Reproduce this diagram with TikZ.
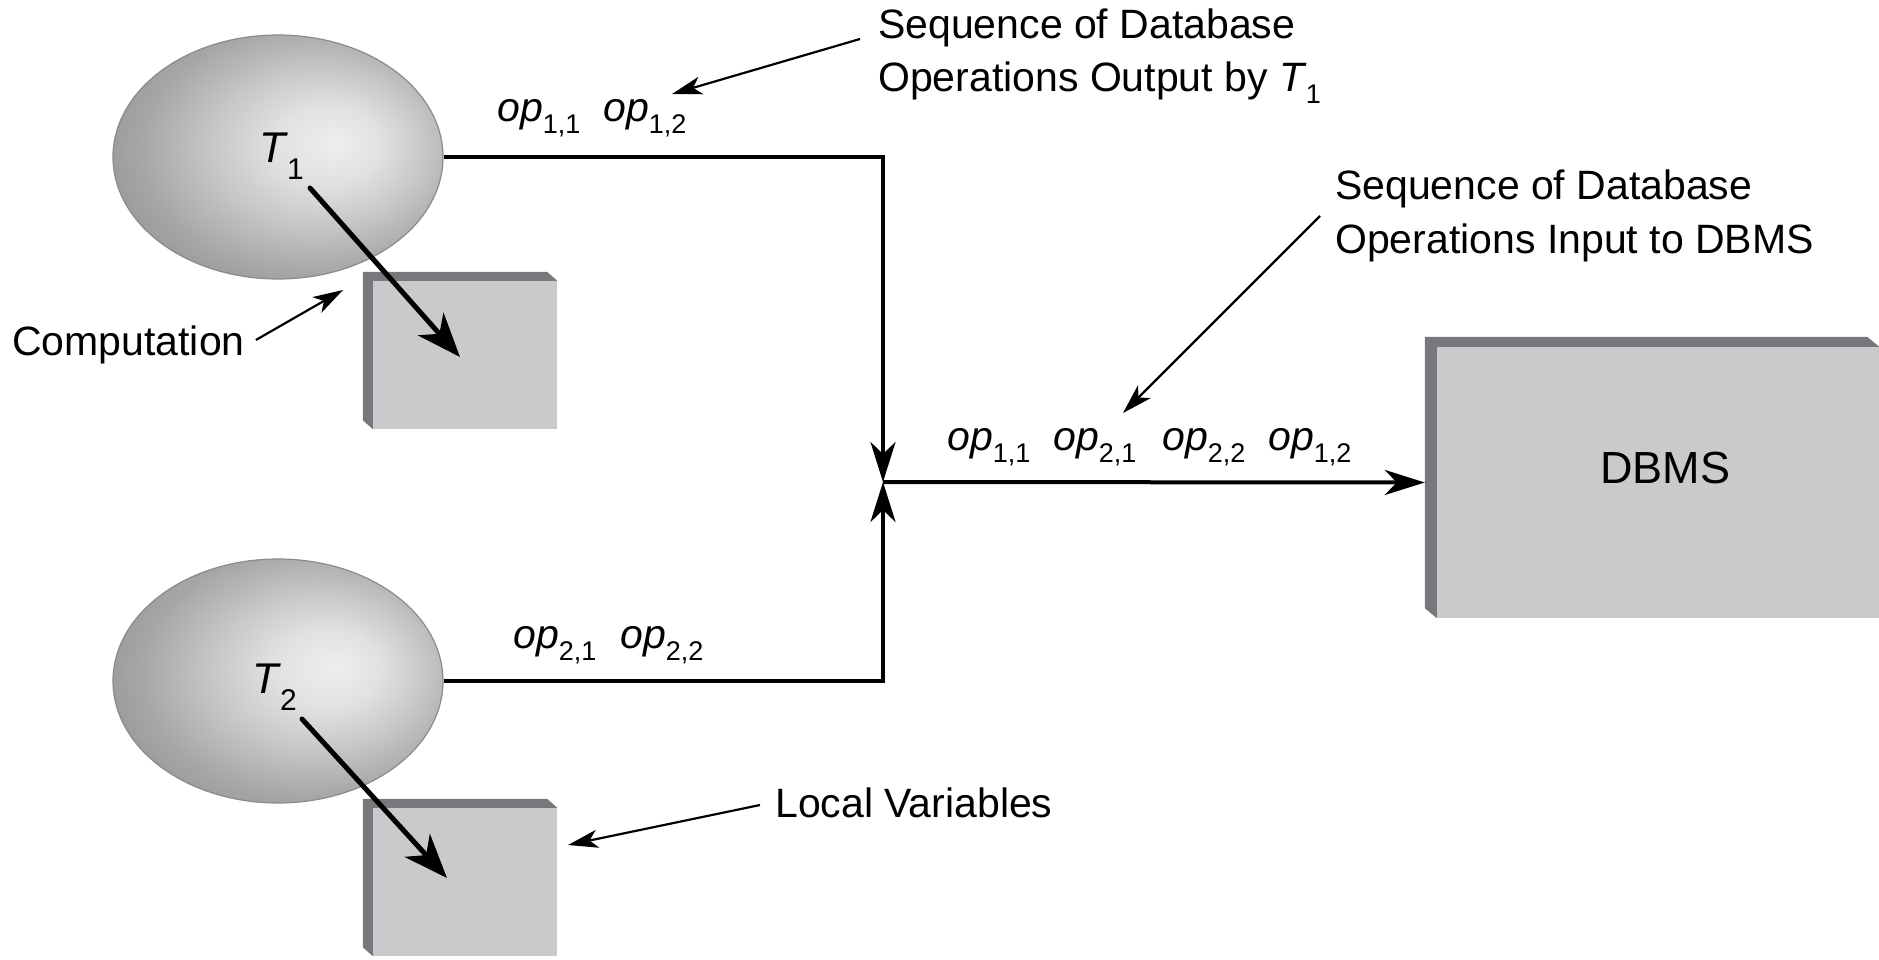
\documentclass[tikz,border=0pt]{standalone}
\usepackage{fontspec}
\setmainfont{Liberation Sans}
\usetikzlibrary{arrows.meta,shapes.geometric,calc}

\definecolor{boxface}{HTML}{C9CACC}
\definecolor{boxside}{HTML}{76787B}
\definecolor{rimgray}{HTML}{8A8B8D}
\definecolor{ballA}{HTML}{EEEEEF}
\definecolor{ballB}{HTML}{E0E1E2}
\definecolor{ballC}{HTML}{C6C7C9}
\definecolor{ballD}{HTML}{A6A7A9}
\definecolor{ballE}{HTML}{8E8F91}
\definecolor{ballF}{HTML}{808183}

% soft sphere-like shading, highlight slightly right of centre
\pgfdeclareradialshading{tranball}{\pgfpoint{9bp}{3bp}}{%
  color(0bp)=(ballA); color(8bp)=(ballB); color(16bp)=(ballC);
  color(25bp)=(ballD); color(34bp)=(ballE); color(50bp)=(ballF)}

% italic "op" with an upright subscript
\newcommand\opx[1]{\textit{op}\raisebox{-12pt}{\fontsize{27}{27}\selectfont #1}}
% large transaction label T with subscript
\newcommand\tlab[1]{{\fontsize{43}{43}\selectfont\textit{T}}\kern-1pt\raisebox{-17pt}{\fontsize{30}{30}\selectfont #1}}
% inline T with subscript inside a caption
\newcommand\tinl[1]{\textit{T}\kern-1pt\raisebox{-12pt}{\fontsize{27}{27}\selectfont #1}}

\tikzset{
  trans/.style={ellipse, minimum width=330pt, minimum height=244pt, inner sep=0pt,
    draw=rimgray, line width=1.2pt, shade, shading=tranball},
  store/.style={rectangle, fill=boxface, inner sep=0pt},
  slab/.style={fill=boxside},
  txt/.style={inner sep=0pt, anchor=base west, font=\fontsize{41}{49}\selectfont},
  oplbl/.style={inner sep=0pt, anchor=base west, font=\fontsize{41}{49}\selectfont},
  flow/.style={line width=4pt, -{Stealth[length=40pt,width=25pt,inset=12pt]}},
  bigarrow/.style={line width=5pt, line cap=round, -{Stealth[length=44pt,width=34pt,inset=13pt]}},
  note/.style={line width=2.2pt, -{Stealth[length=30pt,width=18pt,inset=8pt]}},
}

\begin{document}
\begin{tikzpicture}[x=1pt,y=-1pt]
  \useasboundingbox (0,0) rectangle (1879,960);
  \fill[white] (0,0) rectangle (1879,960);
  \clip (0,0) rectangle (1879,960);

  % transactions
  \node[trans] (t1) at (278,157) {};
  \node[trans] (t2) at (278,681) {};
  \node[inner sep=0pt, anchor=base west] (t1lbl) at (259,163) {\tlab{1}};
  \node[inner sep=0pt, anchor=base west] (t2lbl) at (252,693) {\tlab{2}};

  % local-variable boxes (front face + dark extruded edge)
  \node[store, minimum width=184pt, minimum height=148pt] (box1) at (465,355) {};
  \node[store, minimum width=184pt, minimum height=148pt] (box2) at (465,882) {};
  \foreach \b in {box1,box2}{
    \fill[slab] (\b.south west) -- ($(\b.south west)+(-10,-9)$)
      -- ($(\b.north west)+(-10,-9)$) -- ($(\b.north east)+(-10,-9)$)
      -- (\b.north east) -- (\b.north west) -- cycle;
  }

  % DBMS box
  \node[store, minimum width=442pt, minimum height=271pt] (dbms) at (1658,482.5) {};
  \fill[slab] (dbms.south west) -- ($(dbms.south west)+(-12,-10)$)
      -- ($(dbms.north west)+(-12,-10)$) -- ($(dbms.north east)+(-12,-10)$)
      -- (dbms.north east) -- (dbms.north west) -- cycle;
  \node[inner sep=0pt, anchor=base, font=\fontsize{45}{45}\selectfont] (dbmslbl) at (1665,483) {DBMS};

  % merging the two operation streams
  \coordinate (merge) at (883,482);
  \draw[flow] (t1.east) -| (merge);
  \draw[flow] (t2.east) -| (merge);
  \draw[flow] (merge) -- ($(dbms.west)+(-12,0)$);

  % operation labels
  \node[oplbl] (o11a) at (497,122) {\opx{1,1}};
  \node[oplbl] (o12a) at (603,122) {\opx{1,2}};
  \node[oplbl] (o21b) at (513,648) {\opx{2,1}};
  \node[oplbl] (o22b) at (620,648) {\opx{2,2}};
  \node[oplbl] (s1) at (947,450) {\opx{1,1}};
  \node[oplbl] (s2) at (1053,450) {\opx{2,1}};
  \node[oplbl] (s3) at (1162,450) {\opx{2,2}};
  \node[oplbl] (s4) at (1268,450) {\opx{1,2}};

  % computation arrows into the local variables
  \coordinate (c1a) at (310,188);
  \coordinate (c1b) at (460,357);
  \coordinate (c2a) at (302,719);
  \coordinate (c2b) at (447,878);
  \draw[bigarrow] (c1a) -- (c1b);
  \draw[bigarrow] (c2a) -- (c2b);

  % captions
  \node[txt] (outA) at (878,39) {Sequence of Database};
  \node[txt] (outB) at (878,92) {Operations Output by \tinl{1}};
  \node[txt] (inA) at (1335,200) {Sequence of Database};
  \node[txt] (inB) at (1335,253) {Operations Input to DBMS};
  \node[txt] (comp) at (12,355) {Computation};
  \node[txt] (localvars) at (775,817) {Local Variables};

  % caption pointers
  \coordinate (outTip) at (672,94);
  \coordinate (inTip) at (1123,413);
  \coordinate (compTip) at (343,290);
  \coordinate (localTip) at (568,845);
  \draw[note] ($(outA.base west)+(-18,0)$) -- (outTip);
  \draw[note] ($(inA.base west)+(-15,16)$) -- (inTip);
  \draw[note] ($(comp.base east)+(11,-15)$) -- (compTip);
  \draw[note] ($(localvars.base west)+(-15,-12)$) -- (localTip);
\end{tikzpicture}
\end{document}
